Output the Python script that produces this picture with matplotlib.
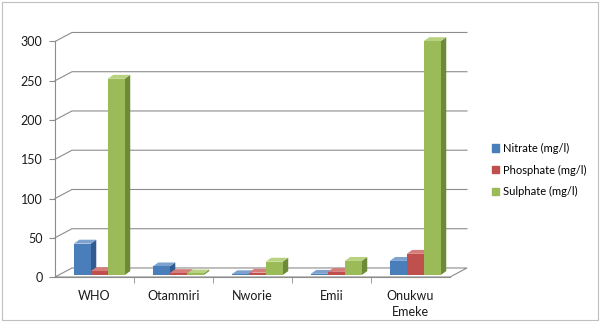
import matplotlib
matplotlib.use("Agg")
import matplotlib.pyplot as plt
import matplotlib.patches as pcs

# Data
sites = ["WHO", "Otammiri", "Nworie", "Emii", "Onukwu\nEmeke"]
nitrate = [40, 11, 1, 1.5, 18]
phosphate = [5, 2.5, 3, 4, 27]
sulphate = [250, 2, 17, 18, 298]
series_names = ["Nitrate (mg/l)", "Phosphate (mg/l)", "Sulphate (mg/l)"]
yticks = [0, 50, 100, 150, 200, 250, 300]

# Face colours: front, side, top
colors = {
    "Nitrate (mg/l)": ("#4a7ebb", "#2f5b8e", "#7ea2d0"),
    "Phosphate (mg/l)": ("#c0504d", "#8e3532", "#d57d7a"),
    "Sulphate (mg/l)": ("#9bbb59", "#6e8a38", "#b9d27f"),
}
grid_color = "#8c8c8c"

# Pseudo-3D geometry (data units)
wall_dx, wall_dy = 0.215, 11.5      # depth of the floor / side wall
bar_dx, bar_dy = 0.07, 5.0          # depth of each bar
bar_w = 0.215
bar_base = 2.5
bar_shift = 0.06

W, H = 601, 326
fig = plt.figure(figsize=(W / 100, H / 100), dpi=100)
x0, x1 = 55, 470
y0 = 277
px_x, px_y = 79.0, 0.785
xmax = (x1 - x0) / px_x
ymax = 300 + wall_dy + 4
ax = fig.add_axes([x0 / W, (H - y0) / H, (x1 - x0) / W, ymax * px_y / H])
ax.set_xlim(0, xmax)
ax.set_ylim(0, ymax)
for s in ["top", "right"]:
    ax.spines[s].set_visible(False)
ax.spines["left"].set_bounds(0, 300)
ax.spines["bottom"].set_bounds(0, 5)
ax.spines["left"].set_color(grid_color)
ax.spines["bottom"].set_color(grid_color)
ax.patch.set_visible(False)

fn = ["Lato", "DejaVu Sans"]
txt = "#1a1a1a"
ax.set_yticks(yticks)
ax.set_yticklabels([str(v) for v in yticks], fontsize=9, family=fn, color=txt)
ax.tick_params(axis="y", length=4, color=grid_color, pad=5)
ax.set_xticks([i + 0.5 for i in range(len(sites))])
ax.set_xticklabels(sites, fontsize=9, family=fn, color=txt, linespacing=1.5)
ax.tick_params(axis="x", length=0, pad=9)
ax.set_xticks([1, 2, 3, 4], minor=True)
ax.tick_params(axis="x", which="minor", length=4, color=grid_color)

# Side wall and back wall gridlines
for v in yticks[1:]:
    ax.plot([0, wall_dx, 5 + wall_dx], [v, v + wall_dy, v + wall_dy],
            color=grid_color, lw=0.8, zorder=1, clip_on=False)

# Floor
floor = pcs.Polygon([(0, 0), (5, 0), (5 + wall_dx, wall_dy), (wall_dx, wall_dy)],
                    closed=True, facecolor="none", edgecolor=grid_color, lw=0.8,
                    zorder=1, clip_on=False)
ax.add_patch(floor)

# Bars
z = 3
for i in range(len(sites)):
    for k, (name, vals) in enumerate(zip(series_names, [nitrate, phosphate, sulphate])):
        front, side, top = colors[name]
        left = i + 0.5 + bar_shift + (k - 1.5) * bar_w
        v = vals[i]
        b = ax.bar(left, v, width=bar_w, bottom=bar_base, align="edge",
                   color=front, edgecolor="none", zorder=z + 2)[0]
        xl, xr = b.get_x(), b.get_x() + b.get_width()
        yb, yt = b.get_y(), b.get_y() + b.get_height()
        ax.fill([xr, xr + bar_dx, xr + bar_dx, xr],
                [yb, yb + bar_dy, yt + bar_dy, yt], color=side, lw=0, zorder=z)
        ax.fill([xl, xr, xr + bar_dx, xl + bar_dx],
                [yt, yt, yt + bar_dy, yt + bar_dy], color=top, lw=0, zorder=z + 1)
        z += 3

# Legend
handles = [pcs.Patch(color=colors[n][0], label=n) for n in series_names]
fig.legend(handles=handles, loc="center left", bbox_to_anchor=(482 / W, 1 - 170 / H),
           frameon=False, handlelength=0.6, handleheight=0.6, handletextpad=0.4,
           labelspacing=0.95, prop={"family": fn, "size": 8})

# Chart border
fig.patches.append(pcs.Rectangle((2 / W, 6 / H), 596 / W, 318 / H, transform=fig.transFigure,
                                 fill=False, edgecolor="#bfbfbf", lw=0.8))

fig.savefig("out.png", dpi=100)
